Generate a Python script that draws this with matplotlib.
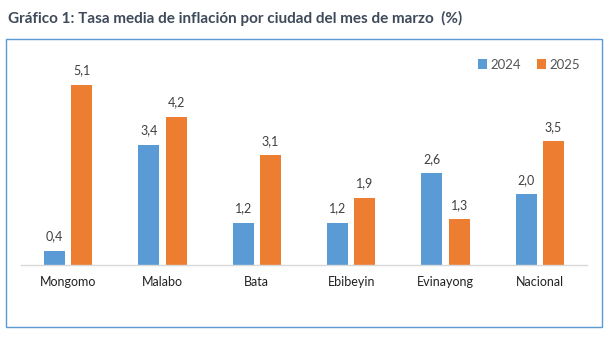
import matplotlib
matplotlib.use("Agg")
import matplotlib.pyplot as plt
import numpy as np
from matplotlib.patches import Rectangle

plt.rcParams['font.family'] = ['Lato', 'DejaVu Sans']

ciudades = ["Mongomo", "Malabo", "Bata", "Ebibeyin", "Evinayong", "Nacional"]
inf_2024 = [0.4, 3.4, 1.2, 1.2, 2.6, 2.0]
inf_2025 = [5.1, 4.2, 3.1, 1.9, 1.3, 3.5]

azul = "#5B9BD5"
naranja = "#ED7D31"
gris_texto = "#404040"

fig = plt.figure(figsize=(6.09, 3.37), dpi=100)

# titulo y marco del grafico
fig.text(8 / 609, 1 - 18 / 337, "Gráfico 1: Tasa media de inflación por ciudad del mes de marzo  (%)",
         fontsize=11, fontweight="bold", color="#3E4A5A", va="center", ha="left")
fig.patches.append(Rectangle((6 / 609, 1 - 327 / 337), 596 / 609, 288 / 337,
                             transform=fig.transFigure, fill=False,
                             edgecolor="#5B9BD5", linewidth=1.0))

ax = fig.add_axes([21 / 609, 1 - 265 / 337, 566 / 609, 212 / 337])

x = np.arange(len(ciudades))
ancho = 0.22
sep = 0.145
b1 = ax.bar(x - sep, inf_2024, ancho, color=azul, label="2024")
b2 = ax.bar(x + sep, inf_2025, ancho, color=naranja, label="2025")

for barras, vals in [(b1, inf_2024), (b2, inf_2025)]:
    for b, v in zip(barras, vals):
        ax.annotate(f"{v:.1f}".replace(".", ","), (b.get_x() + b.get_width() / 2, v),
                    xytext=(0, 6), textcoords="offset points", ha="center", va="bottom",
                    fontsize=9, color=gris_texto)

ax.set_xlim(-0.5, len(ciudades) - 0.5)
ax.set_ylim(0, 6)
ax.set_xticks(x)
ax.set_xticklabels(ciudades, fontsize=9, color="#222222")
ax.tick_params(axis="x", length=0, pad=8)
ax.set_yticks([])
for s in ["top", "right", "left"]:
    ax.spines[s].set_visible(False)
ax.spines["bottom"].set_color("#D9D9D9")
ax.spines["bottom"].set_linewidth(1.0)

ax.legend(loc="upper right", bbox_to_anchor=(1.0, 1.005), ncol=2, frameon=False,
          fontsize=9.5, handlelength=0.7, handleheight=0.7, handletextpad=0.25,
          columnspacing=1.2, borderaxespad=0.1, labelcolor="#555555")

fig.savefig("out.png", dpi=100)
